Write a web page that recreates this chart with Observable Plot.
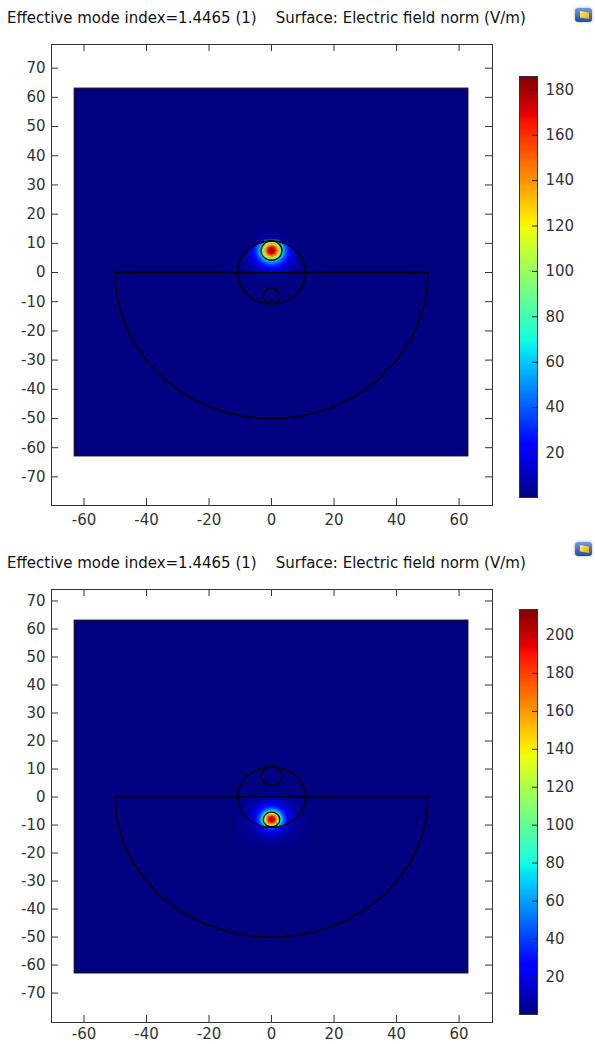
<!DOCTYPE html>
<html><head><meta charset="utf-8">
<script src="https://cdn.jsdelivr.net/npm/d3@7"></script>
<script src="https://cdn.jsdelivr.net/npm/@observablehq/plot@0.6"></script>
<style>
html,body{margin:0;padding:0;background:#fff;}
#root{position:relative;width:595px;height:1044px;overflow:hidden;font-family:"DejaVu Sans",sans-serif;}
.title{position:absolute;left:7px;font-size:15px;line-height:18px;color:#111;white-space:pre;}
.abs{position:absolute;}
svg image{image-rendering:auto;}
.icon{position:absolute;width:17px;height:14px;border-radius:3px;background:linear-gradient(#6f9be0,#1f4aa0);box-shadow:0 0 3px #9ab;}
.icon::after{content:"";position:absolute;left:5px;top:3px;width:9px;height:8px;background:linear-gradient(135deg,#fff07a,#f2a400);clip-path:polygon(0 0,100% 20%,100% 100%,0 80%);}
</style></head><body><div id="root"></div>
<script>
// ---------- text ----------
const titleText = "Effective mode index=1.4465 (1)    Surface: Electric field norm (V/m)";

// ---------- axes ----------
const xTicks = [-60, -40, -20, 0, 20, 40, 60];
const yTicks = [-70, -60, -50, -40, -30, -20, -10, 0, 10, 20, 30, 40, 50, 60, 70];
const xDomain = [-70.4, 70.7];
const topYDomain = [-79.8, 78.1];
const bottomYDomain = [-80.5, 74.1];

// ---------- colour bars ----------
const topColorDomain = [0.35, 185.9];
const topColorTicks = [20, 40, 60, 80, 100, 120, 140, 160, 180];
const bottomColorDomain = [0.2, 213.7];
const bottomColorTicks = [20, 40, 60, 80, 100, 120, 140, 160, 180, 200];

// ---------- geometry (um) ----------
const rectHalf = 63;
const substrateR = 50;
const claddingR = 10.8;
const coreA = {cx: 0, cy: 7.5, r: 3.3};
const coreB = {cx: 0, cy: -8, r: 2.6};
const backgroundField = 0.5;

// ---------- field samples (V/m) ----------
const gridCols = [-11,-10,-9,-8,-7,-6,-5,-4,-3,-2,-1,0,1,2,3,4,5,6,7,8,9,10,11];

const topGridRows = [15.5,14.5,13.5,12.5,11.5,10.5,9.5,8.5,7.5,6.5,5.5,4.5,3.5,2.5,1.5,0.5,-0.5,-1.5,-2.5];
const topField = [
[0.5,0.5,0.5,0.5,0.5,0.5,0.6,0.8,0.9,1,1.1,1.1,1.1,1,0.9,0.8,0.6,0.5,0.5,0.5,0.5,0.5,0.5],
[0.5,0.5,0.5,0.5,0.5,0.7,0.9,1.1,1.4,1.6,1.8,1.8,1.8,1.6,1.4,1.1,0.9,0.7,0.5,0.5,0.5,0.5,0.5],
[0.5,0.5,0.5,0.5,0.7,0.9,1.3,1.6,2,2.3,2.5,2.6,2.5,2.3,2,1.6,1.3,0.9,0.7,0.5,0.5,0.5,0.5],
[0.5,0.5,0.5,0.6,0.9,1.3,1.8,2.3,2.9,3.5,4,4.1,4,3.5,2.9,2.3,1.8,1.3,0.9,0.6,0.5,0.5,0.5],
[0.5,0.5,0.5,0.8,1.1,1.6,2.3,3.1,4.1,5.1,6,6.3,6,5.1,4.1,3.1,2.3,1.6,1.1,0.8,0.5,0.5,0.5],
[0.5,0.5,0.6,0.9,1.4,2,2.9,4.1,5.6,63,82,90,82,63,5.6,4.1,2.9,2,1.4,0.9,0.6,0.5,0.5],
[0.5,0.5,0.7,1,1.6,2.3,28,41,63,99,128,140,128,99,63,41,28,2.3,1.6,1,0.7,0.5,0.5],
[0.5,0.5,0.8,1.1,1.8,20,32,48,82,128,164,176,164,128,82,48,32,20,1.8,1.1,0.8,0.5,0.5],
[0.5,0.5,0.8,1.1,14,21,33,50,90,140,176,186,176,140,90,50,33,21,14,1.1,0.8,0.5,0.5],
[0.5,0.5,0.8,9,14,20,32,48,82,128,164,176,164,128,82,48,32,20,14,9,0.8,0.5,0.5],
[0.5,0.5,5.5,8,13,18,28,41,63,99,128,140,128,99,63,41,28,18,13,8,5.5,0.5,0.5],
[0.5,0.5,5,7,11,16,23,33,45,63,82,90,82,63,45,33,23,16,11,7,5,0.5,0.5],
[0.5,3.2,4.3,6,9,13,18,25,33,41,48,50,48,41,33,25,18,13,9,6,4.3,3.2,0.5],
[0.5,2.9,3.7,5,7,10,14,18,23,28,32,33,32,28,23,18,14,10,7,5,3.7,2.9,0.5],
[0.5,2.5,3.2,4,5.5,7.5,10,13,16,18,20,21,20,18,16,13,10,7.5,5.5,4,3.2,2.5,0.5],
[0.5,2.2,2.7,3.5,4,5.5,7,9,11,13,14,14,14,13,11,9,7,5.5,4,3.5,2.7,2.2,0.5],
[0.5,1.1,1.2,1.8,2.1,2.4,3,3.6,4.2,4.8,5.4,5.4,5.4,4.8,4.2,3.6,3,2.4,2.1,1.8,1.2,1.1,0.5],
[0.5,0.8,0.9,1,1.4,1.6,1.9,2.2,2.5,2.8,3,3,3,2.8,2.5,2.2,1.9,1.6,1.4,1,0.9,0.8,0.5],
[0.5,0.7,0.8,0.9,1.1,1.3,1.5,1.6,1.8,1.9,2,2,2,1.9,1.8,1.6,1.5,1.3,1.1,0.9,0.8,0.7,0.5]
];

const bottomGridRows = [2,1,0,-1,-2,-3,-4,-5,-6,-7,-8,-9,-10,-11,-12,-13,-14,-15,-16,-17];
const bottomField = [
[0.5,0.6,0.7,0.8,1,1.1,1.2,1.3,1.4,1.5,1.6,1.6,1.6,1.5,1.4,1.3,1.2,1.1,1,0.8,0.7,0.6,0.5],
[0.5,0.8,0.9,1,1.2,1.4,1.6,1.8,2,2.2,2.4,2.4,2.4,2.2,2,1.8,1.6,1.4,1.2,1,0.9,0.8,0.5],
[0.9,1.5,1.8,2.1,2.5,2.8,3.5,4.2,4.9,5.6,6,6,6,5.6,4.9,4.2,3.5,2.8,2.5,2.1,1.8,1.5,0.9],
[1.2,2.4,3,3.5,4.2,5.5,6.8,8.5,10,11,12,12.5,12,11,10,8.5,6.8,5.5,4.2,3.5,3,2.4,1.2],
[1.3,2.7,3.5,4,5.5,7,9,11.5,14,16,18,18,18,16,14,11.5,9,7,5.5,4,3.5,2.7,1.3],
[1.4,3,4,5,6.8,9,12,15.5,20,24,27,28,27,24,20,15.5,12,9,6.8,5,4,3,1.4],
[1.6,3.3,4.5,6,8.5,11.5,15.5,21,28,35,41,43,41,35,28,21,15.5,11.5,8.5,6,4.5,3.3,1.6],
[1.7,2.2,5,7,10,14,20,28,39,53,70,78,70,53,39,28,20,14,10,7,5,2.2,1.7],
[1.7,2.3,3.3,8,11,16,24,35,53,88,128,145,128,88,53,35,24,16,11,8,3.3,2.3,1.7],
[1.8,2.4,3.6,8.5,12,18,27,41,70,128,178,195,178,128,70,41,27,18,12,8.5,3.6,2.4,1.8],
[1.8,2.4,3.6,5.1,12.5,18,28,43,78,145,195,213,195,145,78,43,28,18,12.5,5.1,3.6,2.4,1.8],
[1.8,2.4,3.6,5.1,7.2,10.8,27,41,70,128,178,195,178,128,70,41,27,10.8,7.2,5.1,3.6,2.4,1.8],
[1.7,2.3,3.3,4.8,6.6,9.6,14.4,35,53,88,128,145,128,88,53,35,14.4,9.6,6.6,4.8,3.3,2.3,1.7],
[1.7,2.2,3,4.2,6,8.4,12,17,23,32,42,47,42,32,23,17,12,8.4,6,4.2,3,2.2,1.7],
[1.6,2,2.7,3.6,5.1,6.9,9.3,12.6,17,21,25,26,25,21,17,12.6,9.3,6.9,5.1,3.6,2.7,2,1.6],
[1.4,1.8,2.4,3,4.1,5.4,7.2,9.3,12,14.4,16,17,16,14.4,12,9.3,7.2,5.4,4.1,3,2.4,1.8,1.4],
[1.3,1.6,2.1,2.4,3.3,4.2,5.4,6.9,8.4,9.6,10.8,10.8,10.8,9.6,8.4,6.9,5.4,4.2,3.3,2.4,2.1,1.6,1.3],
[1.2,1.4,1.8,2.1,2.5,3.3,4.1,5.1,6,6.6,7.2,7.5,7.2,6.6,6,5.1,4.1,3.3,2.5,2.1,1.8,1.4,1.2],
[1.1,1.3,1.5,1.8,2.1,2.4,3,3.6,4.2,4.8,5.1,5.1,5.1,4.8,4.2,3.6,3,2.4,2.1,1.8,1.5,1.3,1.1],
[1,1.1,1.3,1.5,1.8,2.1,2.4,2.7,3,3.3,3.6,3.6,3.6,3.3,3,2.7,2.4,2.1,1.8,1.5,1.3,1.1,1]
];

// ---------- COMSOL rainbow (jet) colour map ----------
function clamp01(v) { return Math.max(0, Math.min(1, v)); }
function jet(t) {
  t = clamp01(t);
  const r = t < 0.35 ? 0 : t < 0.66 ? (t - 0.35) / 0.31 : t < 0.89 ? 1 : 1 - 0.5 * (t - 0.89) / 0.11;
  const g = t < 0.125 ? 0 : t < 0.375 ? (t - 0.125) / 0.25 : t < 0.64 ? 1 : t < 0.91 ? 1 - (t - 0.64) / 0.27 : 0;
  const b = t < 0.11 ? 0.5 + 0.5 * t / 0.11 : t < 0.34 ? 1 : t < 0.65 ? 1 - (t - 0.34) / 0.31 : 0;
  return `rgb(${Math.round(clamp01(r) * 255)},${Math.round(clamp01(g) * 255)},${Math.round(clamp01(b) * 255)})`;
}

// ---------- outline helpers ----------
function circlePts(c, n = 180) {
  return d3.range(n + 1).map(i => {
    const a = 2 * Math.PI * i / n;
    return {x: c.cx + c.r * Math.cos(a), y: c.cy + c.r * Math.sin(a)};
  });
}
function substratePts(n = 240) {
  const pts = d3.range(n + 1).map(i => {
    const a = Math.PI + Math.PI * i / n;
    return {x: substrateR * Math.cos(a), y: substrateR * Math.sin(a)};
  });
  pts.push({x: -substrateR, y: 0});
  return pts;
}

const root = document.getElementById("root");
const fmt = d => String(d);

function panel(p) {
  const t = document.createElement("div");
  t.className = "title";
  t.style.top = p.titleTop + "px";
  t.textContent = titleText;
  root.appendChild(t);

  const ic = document.createElement("div");
  ic.className = "icon";
  ic.style.left = "575px";
  ic.style.top = p.iconTop + "px";
  root.appendChild(ic);

  const frameH = p.frameH;
  const frameW = 441;
  const pxY = frameH / (p.yDomain[1] - p.yDomain[0]);
  const pxX = frameW / (xDomain[1] - xDomain[0]);
  const tl = 7;
  const yd = p.yDomain, xd = xDomain;

  const samples = [];
  p.rows.forEach((yv, i) => gridCols.forEach((xv, j) => samples.push({x: xv, y: yv, v: p.field[i][j]})));

  const colorOpt = {type: "linear", domain: p.cDomain, interpolate: jet};
  const lineOpt = {x: "x", y: "y", stroke: "#000", strokeWidth: 1.4, curve: "linear"};

  const main = Plot.plot({
    width: 500, height: 1 + frameH + p.marginBottom,
    marginLeft: 51, marginRight: 8, marginTop: 1, marginBottom: p.marginBottom,
    x: {domain: xd, axis: null},
    y: {domain: yd, axis: null},
    color: colorOpt,
    style: {fontFamily: "DejaVu Sans", fontSize: "15px", color: "#333", background: "transparent"},
    marks: [
      Plot.rect([0], {x1: -rectHalf, x2: rectHalf, y1: -rectHalf, y2: rectHalf, fill: () => backgroundField}),
      Plot.raster(samples, {
        x: "x", y: "y", fill: "v",
        x1: gridCols[0] - 0.5, x2: gridCols[gridCols.length - 1] + 0.5,
        y1: p.rows[p.rows.length - 1] - 0.5, y2: p.rows[0] + 0.5,
        width: gridCols.length, height: p.rows.length, imageRendering: "auto"
      }),
      Plot.rect([0], {x1: -rectHalf, x2: rectHalf, y1: -rectHalf, y2: rectHalf, fill: "none", stroke: "#111", strokeWidth: 1}),
      Plot.line(substratePts(), lineOpt),
      Plot.line(circlePts({cx: 0, cy: 0, r: claddingR}), lineOpt),
      Plot.line(circlePts(coreA), lineOpt),
      Plot.line(circlePts(coreB), lineOpt),
      Plot.frame({stroke: "#333", strokeWidth: 1}),
      Plot.ruleX(xTicks, {x: d => d, y1: yd[0], y2: yd[0] + tl / pxY, stroke: "#333"}),
      Plot.ruleX(xTicks, {x: d => d, y1: yd[1] - tl / pxY, y2: yd[1], stroke: "#333"}),
      Plot.ruleY(yTicks, {y: d => d, x1: xd[0], x2: xd[0] + tl / pxX, stroke: "#333"}),
      Plot.ruleY(yTicks, {y: d => d, x1: xd[1] - tl / pxX, x2: xd[1], stroke: "#333"}),
      Plot.axisX({anchor: "bottom", ticks: xTicks, tickSize: 0, tickPadding: p.xPad, tickFormat: fmt, label: null, fill: "#333"}),
      Plot.axisY({anchor: "left", ticks: yTicks, tickSize: 0, tickPadding: 6, tickFormat: fmt, label: null, fill: "#333"})
    ]
  });
  main.classList.add("abs");
  main.style.left = "0px";
  main.style.top = (p.frameTop - 1) + "px";
  root.appendChild(main);

  const cbH = p.barBottom - p.barTop;
  const cb = Plot.plot({
    width: 95, height: cbH + 20,
    marginLeft: 19, marginRight: 58, marginTop: 10, marginBottom: 10,
    x: {domain: [0, 1], axis: null},
    y: {domain: p.cDomain, axis: null},
    color: colorOpt,
    style: {fontFamily: "DejaVu Sans", fontSize: "15px", color: "#333", background: "transparent"},
    marks: [
      Plot.raster({fill: (x, y) => y, x1: 0, x2: 1, y1: p.cDomain[0], y2: p.cDomain[1], width: 1, height: 300, imageRendering: "auto"}),
      Plot.frame({stroke: "#333", strokeWidth: 1}),
      Plot.ruleY(p.cTicks, {y: d => d, x1: 1 - 5 / 18, x2: 1, stroke: "#222"}),
      Plot.text(p.cTicks, {y: d => d, x: 1, dx: 8, text: fmt, textAnchor: "start", fill: "#333", fontSize: 15})
    ]
  });
  cb.classList.add("abs");
  cb.style.left = "500px";
  cb.style.top = (p.barTop - 10) + "px";
  root.appendChild(cb);
}

panel({
  titleTop: 9, iconTop: 8,
  frameTop: 44, frameH: 461, marginBottom: 30, xPad: 9,
  yDomain: topYDomain, rows: topGridRows, field: topField,
  cDomain: topColorDomain, cTicks: topColorTicks, barTop: 76, barBottom: 497
});
panel({
  titleTop: 554, iconTop: 542,
  frameTop: 589, frameH: 433, marginBottom: 22, xPad: 6,
  yDomain: bottomYDomain, rows: bottomGridRows, field: bottomField,
  cDomain: bottomColorDomain, cTicks: bottomColorTicks, barTop: 609, barBottom: 1014
});
</script></body></html>
